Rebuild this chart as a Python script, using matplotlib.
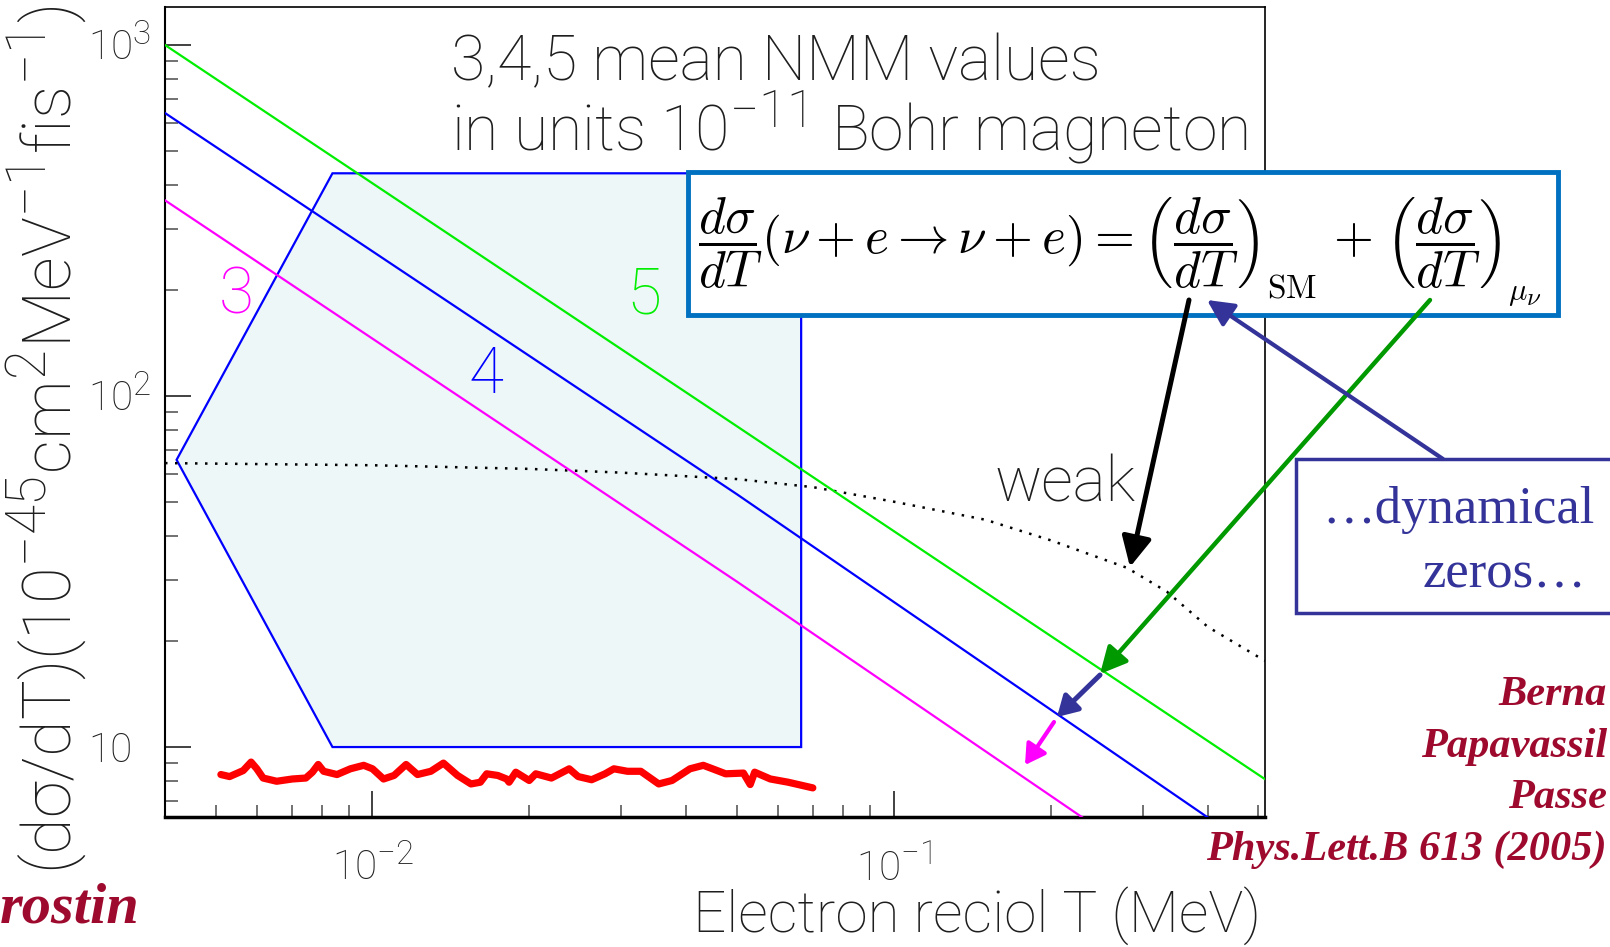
import numpy as np
import matplotlib
matplotlib.use('Agg')
import matplotlib.pyplot as plt
import matplotlib._mathtext as mathtext_mod
from matplotlib.patches import Polygon, Rectangle, FancyArrowPatch
from matplotlib import transforms

W, H = 1610, 947

# 三条磁矩曲线 (mu = 3,4,5 x 1e-11 mu_B)，读图所得
T_mu3 = [0.004, 0.05, 0.23]
v_mu3 = [361, 29.6, 6.3]
T_mu4 = [0.004, 0.05, 0.40]
v_mu4 = [640, 52.5, 6.3]
T_mu5 = [0.004, 0.05, 0.515]
v_mu5 = [1000, 82, 8.1]

# 弱相互作用（虚线）
T_weak = [0.004, 0.01, 0.02, 0.03, 0.05, 0.07, 0.1, 0.15, 0.2, 0.28, 0.334, 0.4, 0.515]
v_weak = [64.4, 63.5, 62, 60.5, 58, 55, 50, 44.4, 38.8, 32.4, 27.7, 22, 17.6]

# 阴影区域
region_T = [0.00421, 0.00838, 0.0664, 0.0664, 0.00838]
region_v = [65.8, 431, 431, 10, 10]

# 手画红线
T_red = [0.00512, 0.00532, 0.00565, 0.00585, 0.0060, 0.00617, 0.00655, 0.00702,
         0.00745, 0.00767, 0.00787, 0.00806, 0.00855, 0.00907, 0.00962, 0.0100,
         0.0105, 0.0110, 0.0116, 0.0122, 0.01294, 0.01368, 0.01456, 0.01545,
         0.0161, 0.01656, 0.01739, 0.01808, 0.01828, 0.01883, 0.01998, 0.02057,
         0.02204, 0.02384, 0.0248, 0.02632, 0.02793, 0.02904, 0.03083, 0.0327,
         0.0354, 0.03754, 0.04064, 0.0431, 0.0449, 0.04757, 0.05146, 0.05302,
         0.05408, 0.05795, 0.06269, 0.06991]
v_red = [8.35, 8.24, 8.57, 9.06, 8.67, 8.16, 7.99, 8.11, 8.16, 8.48, 8.92, 8.53,
         8.35, 8.67, 8.87, 8.67, 8.11, 8.30, 8.92, 8.35, 8.53, 9.0, 8.30, 7.85,
         7.94, 8.39, 8.30, 8.11, 7.94, 8.48, 8.03, 8.39, 8.16, 8.67, 8.24, 8.07,
         8.39, 8.67, 8.53, 8.53, 7.85, 8.03, 8.67, 8.87, 8.67, 8.39, 8.43, 7.82,
         8.48, 8.11, 7.94, 7.65]

x_ticks = [0.01, 0.1]
x_ticklabels = [r'10$^{-2}$', r'10$^{-1}$']
y_ticks = [10, 100, 1000]
y_ticklabels = [r'10', r'10$^{2}$', r'10$^{3}$']

txt_col = '#1e1e1e'
plt.rcParams['font.family'] = ['Roboto', 'DejaVu Sans']
plt.rcParams['font.weight'] = 'light'
plt.rcParams['mathtext.fontset'] = 'custom'
plt.rcParams['mathtext.rm'] = 'Roboto:light'
plt.rcParams['mathtext.it'] = 'Roboto:light:italic'
plt.rcParams['mathtext.bf'] = 'Roboto:bold'
plt.rcParams['axes.unicode_minus'] = True
mathtext_mod.SHRINK_FACTOR = 0.82  # 上标大一些，接近 ROOT 风格


def px(x, y):
    # 像素坐标(左上角原点) -> figure 坐标
    return (x / W, 1 - y / H)


fig = plt.figure(figsize=(W / 100, H / 100), dpi=100)
ax = fig.add_axes([165 / W, (H - 817) / H, 1100 / W, 810 / H])
ax.set_xscale('log')
ax.set_yscale('log')
ax.set_xlim(0.004, 0.515)
ax.set_ylim(6.32, 1283)

poly = Polygon(np.column_stack([region_T, region_v]), closed=True,
               facecolor='#edf7f7', edgecolor='#0000ff', lw=1.6, zorder=1)
ax.add_patch(poly)

ax.plot(T_weak, v_weak, color='black', lw=1.8, ls=(0, (1, 3)), zorder=2)
ax.plot(T_mu3, v_mu3, color='#ff00ff', lw=1.6, zorder=3)
ax.plot(T_mu4, v_mu4, color='#0000ff', lw=1.6, zorder=3)
ax.plot(T_mu5, v_mu5, color='#00ee00', lw=1.6, zorder=3)
ax.plot(T_red, v_red, color='#ff0000', lw=5.2, solid_capstyle='round',
        solid_joinstyle='round', zorder=4)

# 坐标轴样式
for s in ['top', 'right']:
    ax.spines[s].set_linewidth(1.2)
ax.spines['left'].set_linewidth(1.5)
ax.spines['bottom'].set_linewidth(2.5)
ax.tick_params(which='both', direction='in', top=False, right=False,
               labelbottom=False, labelleft=False)
ax.tick_params(which='major', length=19, width=1.3, color='#333333')
ax.tick_params(which='minor', length=9, width=1.3, color='#666666')
ax.set_xticks(x_ticks)
ax.set_yticks(y_ticks)

# 刻度标签
tx = transforms.blended_transform_factory(ax.transData, fig.transFigure)
for v, lab in zip(x_ticks, x_ticklabels):
    ax.text(v, 1 - 880 / H, lab, transform=tx, ha='center', va='baseline',
            fontsize=29, color=txt_col)
ty = transforms.blended_transform_factory(fig.transFigure, ax.transData) + \
    transforms.ScaledTranslation(0, -0.145, fig.dpi_scale_trans)
for v, lab in zip(y_ticks, y_ticklabels):
    ax.text(88 / W, v, lab, transform=ty, ha='left', va='baseline',
            fontsize=29, color=txt_col)

fig.text(*px(47, 5), '(dσ/dT)(10$^{-45}$cm$^{2}$MeV$^{-1}$fis$^{-1}$)',
         rotation=90, ha='center', va='top', fontsize=48, color=txt_col)
fig.text(*px(1261, 932), 'Electron reciol T (MeV)', ha='right', va='baseline',
         fontsize=42, color=txt_col)

fig.text(*px(451, 80), '3,4,5 mean NMM values', ha='left', va='baseline',
         fontsize=45, color=txt_col)
fig.text(*px(451, 151), 'in units 10$^{-11}$ Bohr magneton', ha='left',
         va='baseline', fontsize=45, color=txt_col)
fig.text(*px(994, 501), 'weak', ha='left', va='baseline', fontsize=45, color=txt_col)

fig.text(*px(236, 295), '3', ha='center', va='center', fontsize=46, color='#ff00ff')
fig.text(*px(486, 375), '4', ha='center', va='center', fontsize=46, color='#0000ff')
fig.text(*px(644, 295), '5', ha='center', va='center', fontsize=46, color='#00ee00')

# 公式框
x0, y0 = px(688, 315)
fig.add_artist(Rectangle((x0, y0), (1558 - 688) / W, (315 - 172) / H,
                         transform=fig.transFigure, facecolor='white',
                         edgecolor='#0070c0', lw=3.5, zorder=5))
formula_a = (r'$\dfrac{d\sigma}{dT}(\nu + e \rightarrow \nu + e) = '
             r'\left(\dfrac{d\sigma}{dT}\right)$')
formula_b = r'$+\;\left(\dfrac{d\sigma}{dT}\right)$'
fig.text(*px(698, 243), formula_a, ha='left', va='center', fontsize=37,
         math_fontfamily='cm', color='black', zorder=6)
fig.text(*px(1333, 243), formula_b, ha='left', va='center', fontsize=37,
         math_fontfamily='cm', color='black', zorder=6)
# 下标单独放置，位置更低
fig.text(*px(1267, 298), r'$\mathrm{SM}$', ha='left', va='baseline', fontsize=24,
         math_fontfamily='cm', color='black', zorder=6)
fig.text(*px(1508, 300), r'$\mu_\nu$', ha='left', va='baseline', fontsize=22,
         math_fontfamily='cm', color='black', zorder=6)

# dynamical zeros 框
x0, y0 = px(1296, 613)
fig.add_artist(Rectangle((x0, y0), 400 / W, (613 - 459) / H,
                         transform=fig.transFigure, facecolor='white',
                         edgecolor='#333399', lw=2.5, zorder=5))
fig.text(*px(1322, 523), '\u2026dynamical', ha='left', va='baseline', fontsize=38,
         family='Liberation Serif', weight='normal', color='#333399', zorder=6)
fig.text(*px(1423, 587), 'zeros\u2026', ha='left', va='baseline', fontsize=38,
         family='Liberation Serif', weight='normal', color='#333399', zorder=6)


def arrow(p0, p1, color, lw, hl, hw):
    a = FancyArrowPatch(px(*p0), px(*p1), transform=fig.transFigure,
                        arrowstyle=f'-|>,head_length={hl},head_width={hw}',
                        mutation_scale=20, color=color, lw=lw,
                        shrinkA=0, shrinkB=0, zorder=7)
    fig.add_artist(a)


arrow((1189, 300), (1130, 567), 'black', 3.6, 0.9, 0.45)
arrow((1430, 300), (1100, 674), '#009900', 3.2, 0.8, 0.4)
arrow((1443, 459), (1207, 300), '#333399', 3.0, 0.8, 0.4)
arrow((1100, 675), (1057, 717), '#333399', 3.6, 0.6, 0.35)
arrow((1054, 722), (1025, 765), '#ff00ff', 3.0, 0.6, 0.35)

# 文献引用（只保留图中可见部分）
cite_col = '#9e0a2e'
cite = ['Berna', 'Papavassil', 'Passe', 'Phys.Lett.B 613 (2005)']
for i, line in enumerate(cite):
    fig.text(*px(1607, 705 + 51.7 * i), line, ha='right', va='baseline',
             fontsize=30.5, family='Liberation Serif', weight='bold',
             style='italic', color=cite_col)
fig.text(*px(0, 922), 'rostin', ha='left', va='baseline', fontsize=42,
         family='Liberation Serif', weight='bold', style='italic', color=cite_col)

fig.savefig('out.png', dpi=100)
